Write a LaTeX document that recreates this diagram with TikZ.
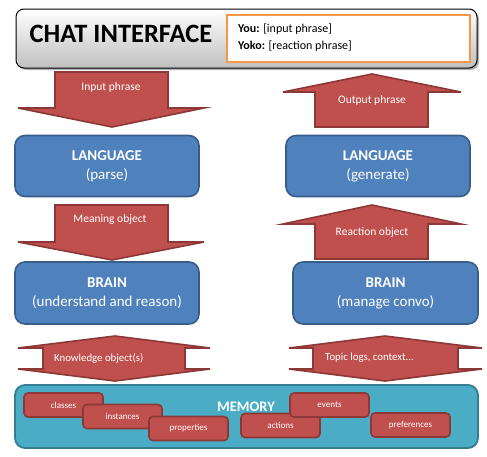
\documentclass[tikz,border=0pt]{standalone}
\usepackage{fontspec}
\setmainfont{Carlito}
\definecolor{blueF}{HTML}{4F81BD}
\definecolor{blueD}{HTML}{385D8A}
\definecolor{redF}{HTML}{C0504D}
\definecolor{redD}{HTML}{8C3836}
\definecolor{tealF}{HTML}{4BACC6}
\definecolor{tealD}{HTML}{357D91}
\definecolor{orangeB}{HTML}{F79646}
\begin{document}
\begin{tikzpicture}[x=1pt,y=-1pt,
  blk/.style={draw=blueD, fill=blueF, line width=1.6pt, rounded corners=10pt,
    minimum width=184pt, minimum height=61pt, text=white, align=center,
    font=\fontsize{15}{19}\selectfont, inner sep=0pt},
  arr/.style={draw=redD, fill=redF, line width=1.6pt, line join=miter},
  alab/.style={text=white, font=\fontsize{11.5}{13}\selectfont, inner sep=0pt},
  item/.style={draw=redD, fill=redF, line width=1.6pt, rounded corners=4pt,
    minimum width=79pt, minimum height=24pt, text=white, inner sep=0pt,
    font=\fontsize{9}{10}\selectfont}]
\useasboundingbox (0,0) rectangle (487,456);
% chat interface
\fill[black!30, rounded corners=8pt] (18,11) rectangle (479,70);
\node[draw=black, line width=1pt, rounded corners=8pt, top color=white, bottom color=black!25,
  minimum width=461pt, minimum height=59pt, inner sep=0pt] (chat) at (246.5,38.5) {};
\node[font=\fontsize{26.5}{30}\bfseries\selectfont, inner sep=0pt] (title) at (121,34) {CHAT INTERFACE};
\node[draw=orangeB, fill=white, line width=2.5pt, minimum width=243pt, minimum height=47pt, inner sep=0pt] (dialog) at (348.5,38.5) {};
\node[anchor=west, font=\fontsize{12}{14}\selectfont, inner sep=0pt] (you) at (238,29) {\textbf{You:} [input phrase]};
\node[anchor=west, font=\fontsize{12}{14}\selectfont, inner sep=0pt] (yoko) at (238,46) {\textbf{Yoko:} [reaction phrase]};
% blocks
\node[blk] (langL) at (107,166) {\textbf{LANGUAGE}\\(parse)};
\node[blk] (langR) at (378,166) {\textbf{LANGUAGE}\\(generate)};
\node[blk, minimum height=62pt] (brainL) at (107,293) {\textbf{BRAIN}\\(understand and reason)};
\node[blk, minimum height=62pt, minimum width=185pt] (brainR) at (385.5,293) {\textbf{BRAIN}\\(manage convo)};
% arrows
\draw[arr] (55,72) -- (168,72) -- (168,108) -- (204,108) -- (112,127) -- (18,108) -- (55,108) -- cycle;
\node[alab] (inlab) at (111,87) {Input phrase};
\draw[arr] (315,127) -- (428,127) -- (428,92) -- (461,92) -- (372,74) -- (283,92) -- (315,92) -- cycle;
\node[alab] (outlab) at (372,100) {Output phrase};
\draw[arr] (55,205) -- (168,205) -- (168,242) -- (204,242) -- (112,260) -- (18,242) -- (55,242) -- cycle;
\node[alab] (meanlab) at (110,219) {Meaning object};
\draw[arr] (315,259) -- (428,259) -- (428,224) -- (461,224) -- (372,205) -- (283,224) -- (315,224) -- cycle;
\node[alab] (reactlab) at (372,232) {Reaction object};
\draw[arr] (43,348) -- (18,348) -- (115,336) -- (210,348) -- (185,348) -- (185,369) -- (210,369) -- (115,381) -- (18,369) -- (43,369) -- cycle;
\node[alab, anchor=west, font=\fontsize{10.8}{12}\selectfont] (knowlab) at (54,358) {Knowledge object(s)};
\draw[arr] (313,348) -- (289,348) -- (385,336) -- (482,348) -- (458,348) -- (458,369) -- (482,369) -- (385,381) -- (289,369) -- (313,369) -- cycle;
\node[alab, anchor=west, font=\fontsize{10.8}{12}\selectfont] (topiclab) at (325,358) {Topic logs, context...};
% memory
\node[draw=tealD, fill=tealF, line width=1.8pt, rounded corners=10pt, minimum width=463pt, minimum height=63pt, inner sep=0pt] (memory) at (246.5,416.5) {};
\node[text=white, font=\fontsize{14.5}{16}\bfseries\selectfont, inner sep=0pt] (memlab) at (246,407) {MEMORY};
\node[item] (classes) at (63.5,405) {classes};
\node[item] (instances) at (122.5,416.5) {instances};
\node[item] (properties) at (188.5,428.5) {properties};
\node[item] (actions) at (280.5,425.5) {actions};
\node[item] (events) at (329.5,405) {events};
\node[item] (prefs) at (410.5,425) {preferences};
\end{tikzpicture}
\end{document}
